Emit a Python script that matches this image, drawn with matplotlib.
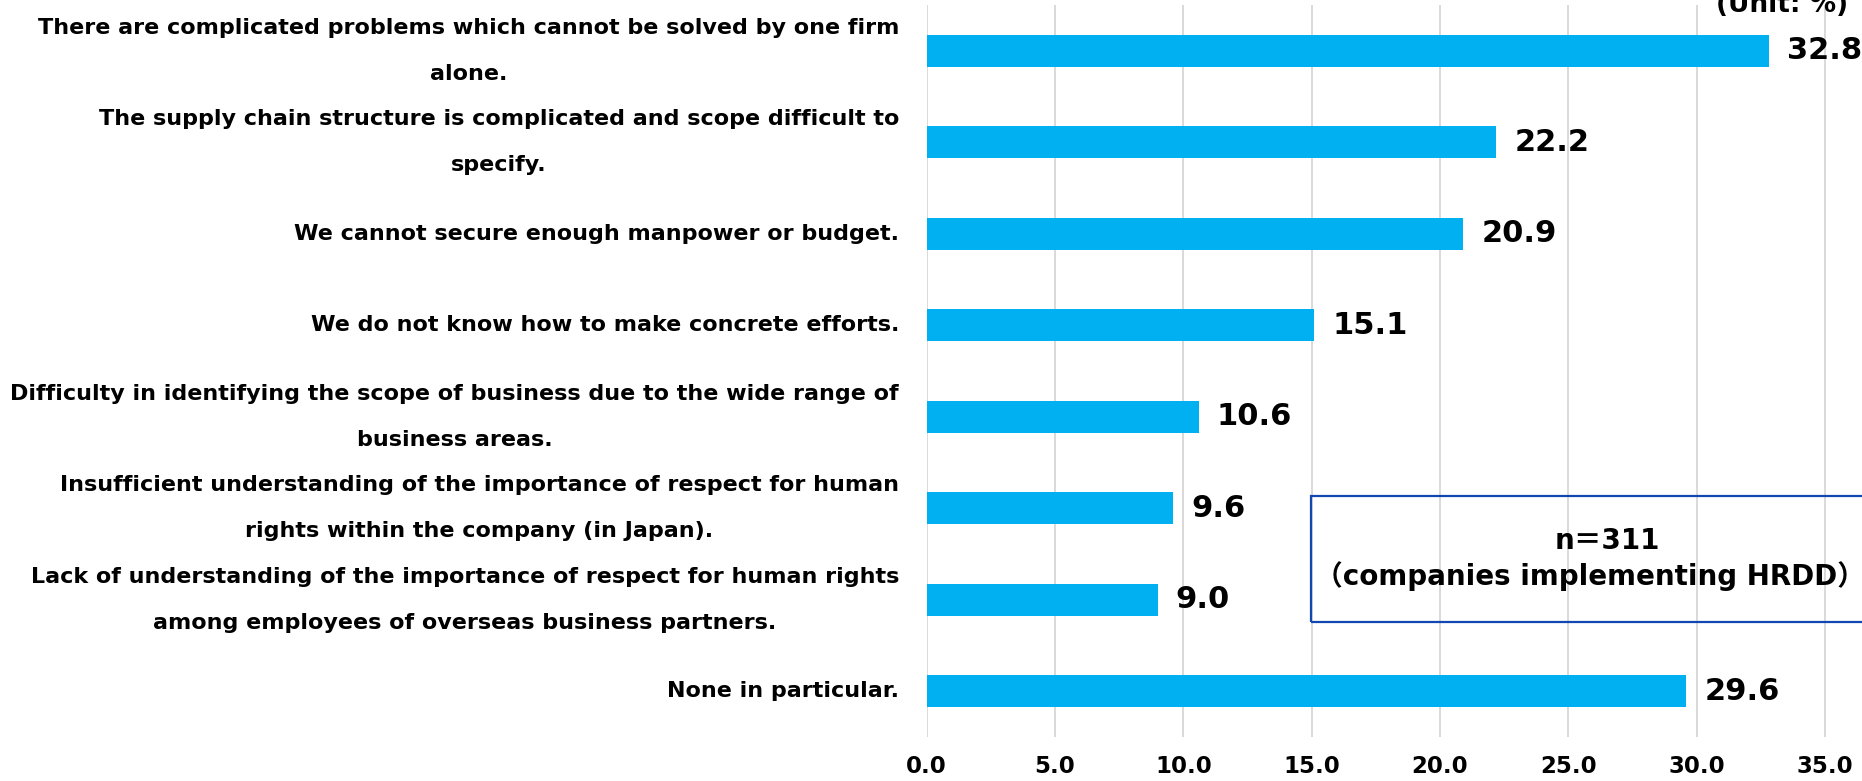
import matplotlib
matplotlib.use("Agg")
import matplotlib.pyplot as plt
from matplotlib.patches import Rectangle

categories = [
    "There are complicated problems which cannot be solved by one firm\nalone.",
    "The supply chain structure is complicated and scope difficult to\nspecify.",
    "We cannot secure enough manpower or budget.",
    "We do not know how to make concrete efforts.",
    "Difficulty in identifying the scope of business due to the wide range of\nbusiness areas.",
    "Insufficient understanding of the importance of respect for human\nrights within the company (in Japan).",
    "Lack of understanding of the importance of respect for human rights\namong employees of overseas business partners.",
    "None in particular.",
]
values = [32.8, 22.2, 20.9, 15.1, 10.6, 9.6, 9.0, 29.6]
xticks = [0, 5, 10, 15, 20, 25, 30, 35]
unit_label = "(Unit: %)"
note_line1 = "n\uff1d311"
note_line2 = "\uff08companies implementing HRDD\uff09"

W, H = 1862, 781
DPI = 100
plt.rcParams['font.family'] = ['DejaVu Sans', 'Noto Sans CJK JP']
plt.rcParams['font.weight'] = 'bold'

fig = plt.figure(figsize=(W / DPI, H / DPI), dpi=DPI)
ax_left, ax_right = 926.7, 1862
ax_top, ax_bot = 5, 737
ax = fig.add_axes([ax_left / W, 1 - ax_bot / H, (ax_right - ax_left) / W, (ax_bot - ax_top) / H])

bar_color = '#00B0F0'
ypos = list(range(len(categories)))
ax.barh(ypos, values, height=0.345, color=bar_color, zorder=3)

px_per_unit = 128.33 / 5
ax.set_xlim(0, (ax_right - ax_left) / px_per_unit)
ax.set_ylim(len(categories) - 0.5, -0.5)

ax.set_xticks(xticks)
ax.set_xticklabels([f"{t:.1f}" for t in xticks], fontsize=16.5, fontweight='bold')
ax.set_yticks(ypos)
ax.set_yticklabels(categories, fontsize=16, fontweight='bold', linespacing=2.6)
for lbl in ax.get_yticklabels():
    lbl.set_multialignment('center')
    lbl.set_verticalalignment('center')

ax.tick_params(axis='x', length=0, pad=13)
ax.tick_params(axis='y', length=0, pad=20)
ax.grid(axis='x', color='#D9D9D9', linewidth=1.4, zorder=0)
ax.set_axisbelow(True)
for s in ax.spines.values():
    s.set_visible(False)

for y, v in zip(ypos, values):
    ax.annotate(f"{v:.1f}", xy=(v, y), xytext=(13, 0), textcoords='offset points',
                va='center', ha='left', fontsize=22, fontweight='bold', color='black')

fig.text(1848 / W, 1 - 12 / H, unit_label, ha='right', va='baseline', fontsize=19, fontweight='bold')

box = Rectangle((1311 / W, 1 - 622 / H), (1880 - 1311) / W, (622 - 496) / H,
                transform=fig.transFigure, fill=False, edgecolor='#1047B0', linewidth=1.6,
                clip_on=False, zorder=5)
fig.add_artist(box)
fig.text(1607 / W, 1 - 541 / H, note_line1, ha='center', va='center',
         fontsize=20, fontweight='bold', zorder=6)
fig.text(1590 / W, 1 - 576 / H, note_line2, ha='center', va='center',
         fontsize=20, fontweight='bold', zorder=6)

fig.savefig("out.png", dpi=DPI)
